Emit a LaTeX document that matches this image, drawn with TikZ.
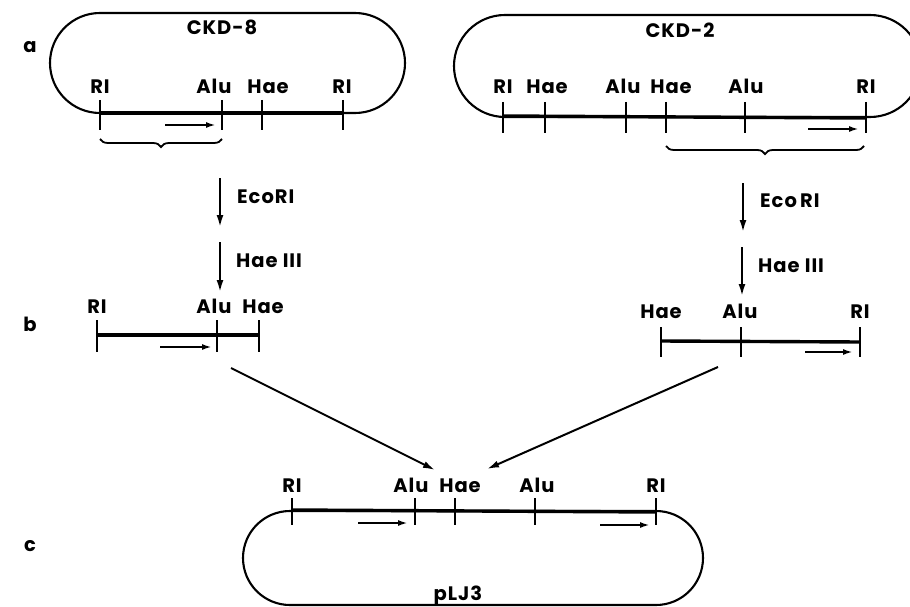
\documentclass[tikz,border=0pt]{standalone}
\usepackage{fontspec}
\newfontfamily\labelfont{Poppins}[LetterSpace=5]
\usetikzlibrary{positioning,arrows.meta,decorations.pathreplacing}

\begin{document}
\begin{tikzpicture}[x=1pt,y=-1pt,
  ring/.style={line width=2.1pt},
  dna/.style={line width=3.4pt},
  site/.style={line width=2pt},
  lbl/.style={font=\labelfont\bfseries\fontsize{19.5}{22}\selectfont,inner sep=0pt,anchor=base},
  dir/.style={line width=2pt,-{Latex[length=10pt,width=6pt]}},
  cut/.style={line width=2pt,-{Latex[length=12pt,width=7pt]}},
  brc/.style={line width=1.8pt,decorate,decoration={brace,mirror,amplitude=8pt}}]
\useasboundingbox (0,0) rectangle (910,607);

% row labels
\node[lbl] (rowa) at (30,53) {a};
\node[lbl] (rowb) at (30,331) {b};
\node[lbl] (rowc) at (30,551) {c};

% ---- CKD-8 ----
\draw[ring] (100,113) -- (355,113) arc[start angle=90,end angle=-90,radius=50]
  -- (100,13) arc[start angle=-90,end angle=-270,radius=50];
\draw[dna] (100,113) -- (343,113);
\node[lbl] (ckd8) at (222,35) {CKD-8};
\foreach \x/\l/\t [count=\i] in {100/100/RI, 222/214/Alu, 262/268/Hae, 343/342/RI}{
  \draw[site] (\x,100) -- (\x,130);
  \node[lbl] (s8-\i) at (\l,94) {\t};
}
\coordinate (a8) at (165,125);
\coordinate (b8) at (216,125);
\draw[dir] (a8) -- (b8);
\draw[brc] (100,139) -- (222,139);

% ---- CKD-2 ----
\draw[ring] (505,117) -- (870,117) arc[start angle=90,end angle=-90,radius=51]
  -- (505,15) arc[start angle=-90,end angle=-270,radius=51];
\draw[dna] (503,116) -- (866,118);
\node[lbl] (ckd2) at (680,38) {CKD-2};
\foreach \x/\l/\t [count=\i] in {503/503/RI, 545/547/Hae, 626/623/Alu, 666/671/Hae, 745/746/Alu, 866/866/RI}{
  \draw[site] (\x,102) -- (\x,133);
  \node[lbl] (s2-\i) at (\l,94) {\t};
}
\coordinate (a2) at (808,129);
\coordinate (b2) at (859,129);
\draw[dir] (a2) -- (b2);
\draw[brc] (666,146) -- (864,146);

% ---- digestion, left ----
\coordinate (e8a) at (220,178);
\coordinate (e8b) at (220,227);
\coordinate (h8a) at (220,242);
\coordinate (h8b) at (220,292);
\draw[cut] (e8a) -- (e8b);
\draw[cut] (h8a) -- (h8b);
\node[lbl,anchor=base west] (eco8) at (237,203) {EcoRI};
\node[lbl,anchor=base west] (hae8) at (236,267) {Hae III};

% ---- digestion, right ----
\coordinate (e2a) at (743,183);
\coordinate (e2b) at (743,232);
\coordinate (h2a) at (742,247);
\coordinate (h2b) at (742,296);
\draw[cut] (e2a) -- (e2b);
\draw[cut] (h2a) -- (h2b);
\node[lbl,anchor=base west] (eco2) at (760,207) {Eco\,RI};
\node[lbl,anchor=base west] (hae2) at (758,272) {Hae III};

% ---- fragment b, left ----
\draw[dna] (97,335) -- (259,335);
\foreach \x/\l/\t [count=\i] in {97/97/RI, 217/214/Alu, 259/263/Hae}{
  \draw[site] (\x,320) -- (\x,352);
  \node[lbl] (f8-\i) at (\l,313) {\t};
}
\coordinate (fa8) at (160,347);
\coordinate (fb8) at (212,347);
\draw[dir] (fa8) -- (fb8);

% ---- fragment b, right ----
\draw[dna] (661,341) -- (860,342);
\foreach \x/\l/\t [count=\i] in {661/661/Hae, 741/740/Alu, 860/860/RI}{
  \draw[site] (\x,327) -- (\x,357);
  \node[lbl] (f2-\i) at (\l,318) {\t};
}
\coordinate (fa2) at (805,352);
\coordinate (fb2) at (853,352);
\draw[dir] (fa2) -- (fb2);

% ---- ligation ----
\coordinate (j8) at (231,368);
\coordinate (j2) at (718,367);
\coordinate (t8) at (435,470);
\coordinate (t2) at (487,469);
\draw[cut] (j8) -- (t8);
\draw[cut] (j2) -- (t2);

% ---- pLJ3 ----
\draw[ring] (290,511) -- (656,511) arc[start angle=-90,end angle=90,radius=47]
  -- (290,605) arc[start angle=90,end angle=270,radius=47];
\draw[dna] (292,510) -- (656,512);
\node[lbl] (plj3) at (458,600) {pLJ3};
\foreach \x/\l/\t [count=\i] in {292/292/RI, 415/411/Alu, 455/460/Hae, 535/537/Alu, 656/656/RI}{
  \draw[site] (\x,498) -- (\x,525);
  \node[lbl] (p-\i) at (\l,492) {\t};
}
\coordinate (pa1) at (358,523);
\coordinate (pb1) at (408,523);
\coordinate (pa2) at (600,525);
\coordinate (pb2) at (650,525);
\draw[dir] (pa1) -- (pb1);
\draw[dir] (pa2) -- (pb2);
\end{tikzpicture}
\end{document}
